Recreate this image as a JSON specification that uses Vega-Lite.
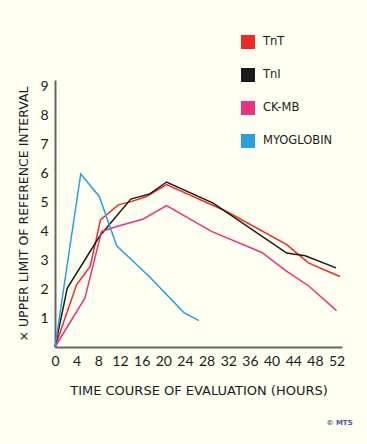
{
  "$schema": "https://vega.github.io/schema/vega-lite/v6.json",
  "width": 287,
  "height": 267,
  "autosize": {"type": "none"},
  "padding": {"left": 55, "top": 80, "right": 25, "bottom": 97},
  "background": "#fffff2",
  "config": {"view": {"stroke": null}, "font": "Lato"},
  "title": {"text": "© MTS", "orient": "bottom", "anchor": "end", "fontSize": 7, "fontWeight": "bold", "color": "#4a5a9a", "offset": 22, "dx": 8, "font": "DejaVu Sans"},
  "data": {"values": [
    {"series": "TnT", "h": 0, "v": 0},
    {"series": "TnT", "h": 4.0, "v": 2.16},
    {"series": "TnT", "h": 6.5, "v": 2.79},
    {"series": "TnT", "h": 8.4, "v": 4.40},
    {"series": "TnT", "h": 11.7, "v": 4.92},
    {"series": "TnT", "h": 14.2, "v": 5.04},
    {"series": "TnT", "h": 16.9, "v": 5.21},
    {"series": "TnT", "h": 20.6, "v": 5.62},
    {"series": "TnT", "h": 31.7, "v": 4.69},
    {"series": "TnT", "h": 42.8, "v": 3.54},
    {"series": "TnT", "h": 46.8, "v": 2.91},
    {"series": "TnT", "h": 52.6, "v": 2.44},
    {"series": "TnI", "h": 0, "v": 0},
    {"series": "TnI", "h": 2.27, "v": 2.04},
    {"series": "TnI", "h": 8.3, "v": 3.85},
    {"series": "TnI", "h": 14.0, "v": 5.12},
    {"series": "TnI", "h": 17.5, "v": 5.3},
    {"series": "TnI", "h": 20.6, "v": 5.71},
    {"series": "TnI", "h": 29.2, "v": 4.98},
    {"series": "TnI", "h": 42.8, "v": 3.25},
    {"series": "TnI", "h": 46.2, "v": 3.16},
    {"series": "TnI", "h": 51.9, "v": 2.74},
    {"series": "CK-MB", "h": 0, "v": 0},
    {"series": "CK-MB", "h": 5.54, "v": 1.70},
    {"series": "CK-MB", "h": 8.6, "v": 4.0},
    {"series": "CK-MB", "h": 11.4, "v": 4.17},
    {"series": "CK-MB", "h": 16.3, "v": 4.43},
    {"series": "CK-MB", "h": 20.6, "v": 4.89},
    {"series": "CK-MB", "h": 28.9, "v": 4.0},
    {"series": "CK-MB", "h": 38.2, "v": 3.27},
    {"series": "CK-MB", "h": 42.8, "v": 2.62},
    {"series": "CK-MB", "h": 46.8, "v": 2.12},
    {"series": "CK-MB", "h": 52.0, "v": 1.26},
    {"series": "MYOGLOBIN", "h": 0, "v": 0},
    {"series": "MYOGLOBIN", "h": 4.75, "v": 5.99},
    {"series": "MYOGLOBIN", "h": 8.18, "v": 5.21},
    {"series": "MYOGLOBIN", "h": 11.4, "v": 3.5},
    {"series": "MYOGLOBIN", "h": 17.5, "v": 2.42},
    {"series": "MYOGLOBIN", "h": 23.8, "v": 1.19},
    {"series": "MYOGLOBIN", "h": 26.6, "v": 0.91}
  ]},
  "mark": {"type": "line", "strokeWidth": 1.5},
  "encoding": {
    "x": {
      "field": "h", "type": "quantitative",
      "scale": {"domain": [0, 53], "nice": false, "zero": true},
      "axis": {
        "title": "TIME COURSE OF EVALUATION (HOURS)",
        "values": [0, 4, 8, 12, 16, 20, 24, 28, 32, 36, 40, 44, 48, 52],
        "grid": false, "ticks": false,
        "domainColor": "#666666", "domainWidth": 2,
        "labelFont": "Lato", "labelFontSize": 14, "labelColor": "#1a1a1a", "labelPadding": 7,
        "labelFlush": false, "labelOverlap": false,
        "titleFont": "DejaVu Sans", "titleFontSize": 13, "titleFontWeight": "normal", "titleColor": "#1a1a1a", "titlePadding": 16
      }
    },
    "y": {
      "field": "v", "type": "quantitative",
      "scale": {"domain": [0, 9.24], "nice": false},
      "axis": {
        "title": "× UPPER LIMIT OF REFERENCE INTERVAL",
        "values": [1, 2, 3, 4, 5, 6, 7, 8, 9],
        "grid": false, "ticks": false,
        "domainColor": "#666666", "domainWidth": 2,
        "labelFont": "Lato", "labelFontSize": 14, "labelColor": "#1a1a1a", "labelPadding": 7,
        "labelFlush": false,
        "titleFont": "DejaVu Sans", "titleFontSize": 12.5, "titleFontWeight": "normal", "titleColor": "#1a1a1a", "titlePadding": 9
      }
    },
    "color": {
      "field": "series", "type": "nominal",
      "scale": {"domain": ["TnT", "TnI", "CK-MB", "MYOGLOBIN"], "range": ["#ee2a24", "#1a1a1a", "#e8337f", "#2a9fd9"]},
      "legend": {
        "title": null, "orient": "none", "legendX": 186, "legendY": -45,
        "symbolType": "square", "symbolSize": 196, "symbolStrokeWidth": 0, "symbolOpacity": 1,
        "labelFont": "DejaVu Sans", "labelFontSize": 11.5, "labelColor": "#1a1a1a", "labelOffset": 8,
        "rowPadding": 19, "padding": 0,
        "encode": {"symbols": {"update": {"fill": {"scale": "color", "field": "value"}, "fillOpacity": {"value": 1}, "strokeWidth": {"value": 0}}}}
      }
    }
  }
}
